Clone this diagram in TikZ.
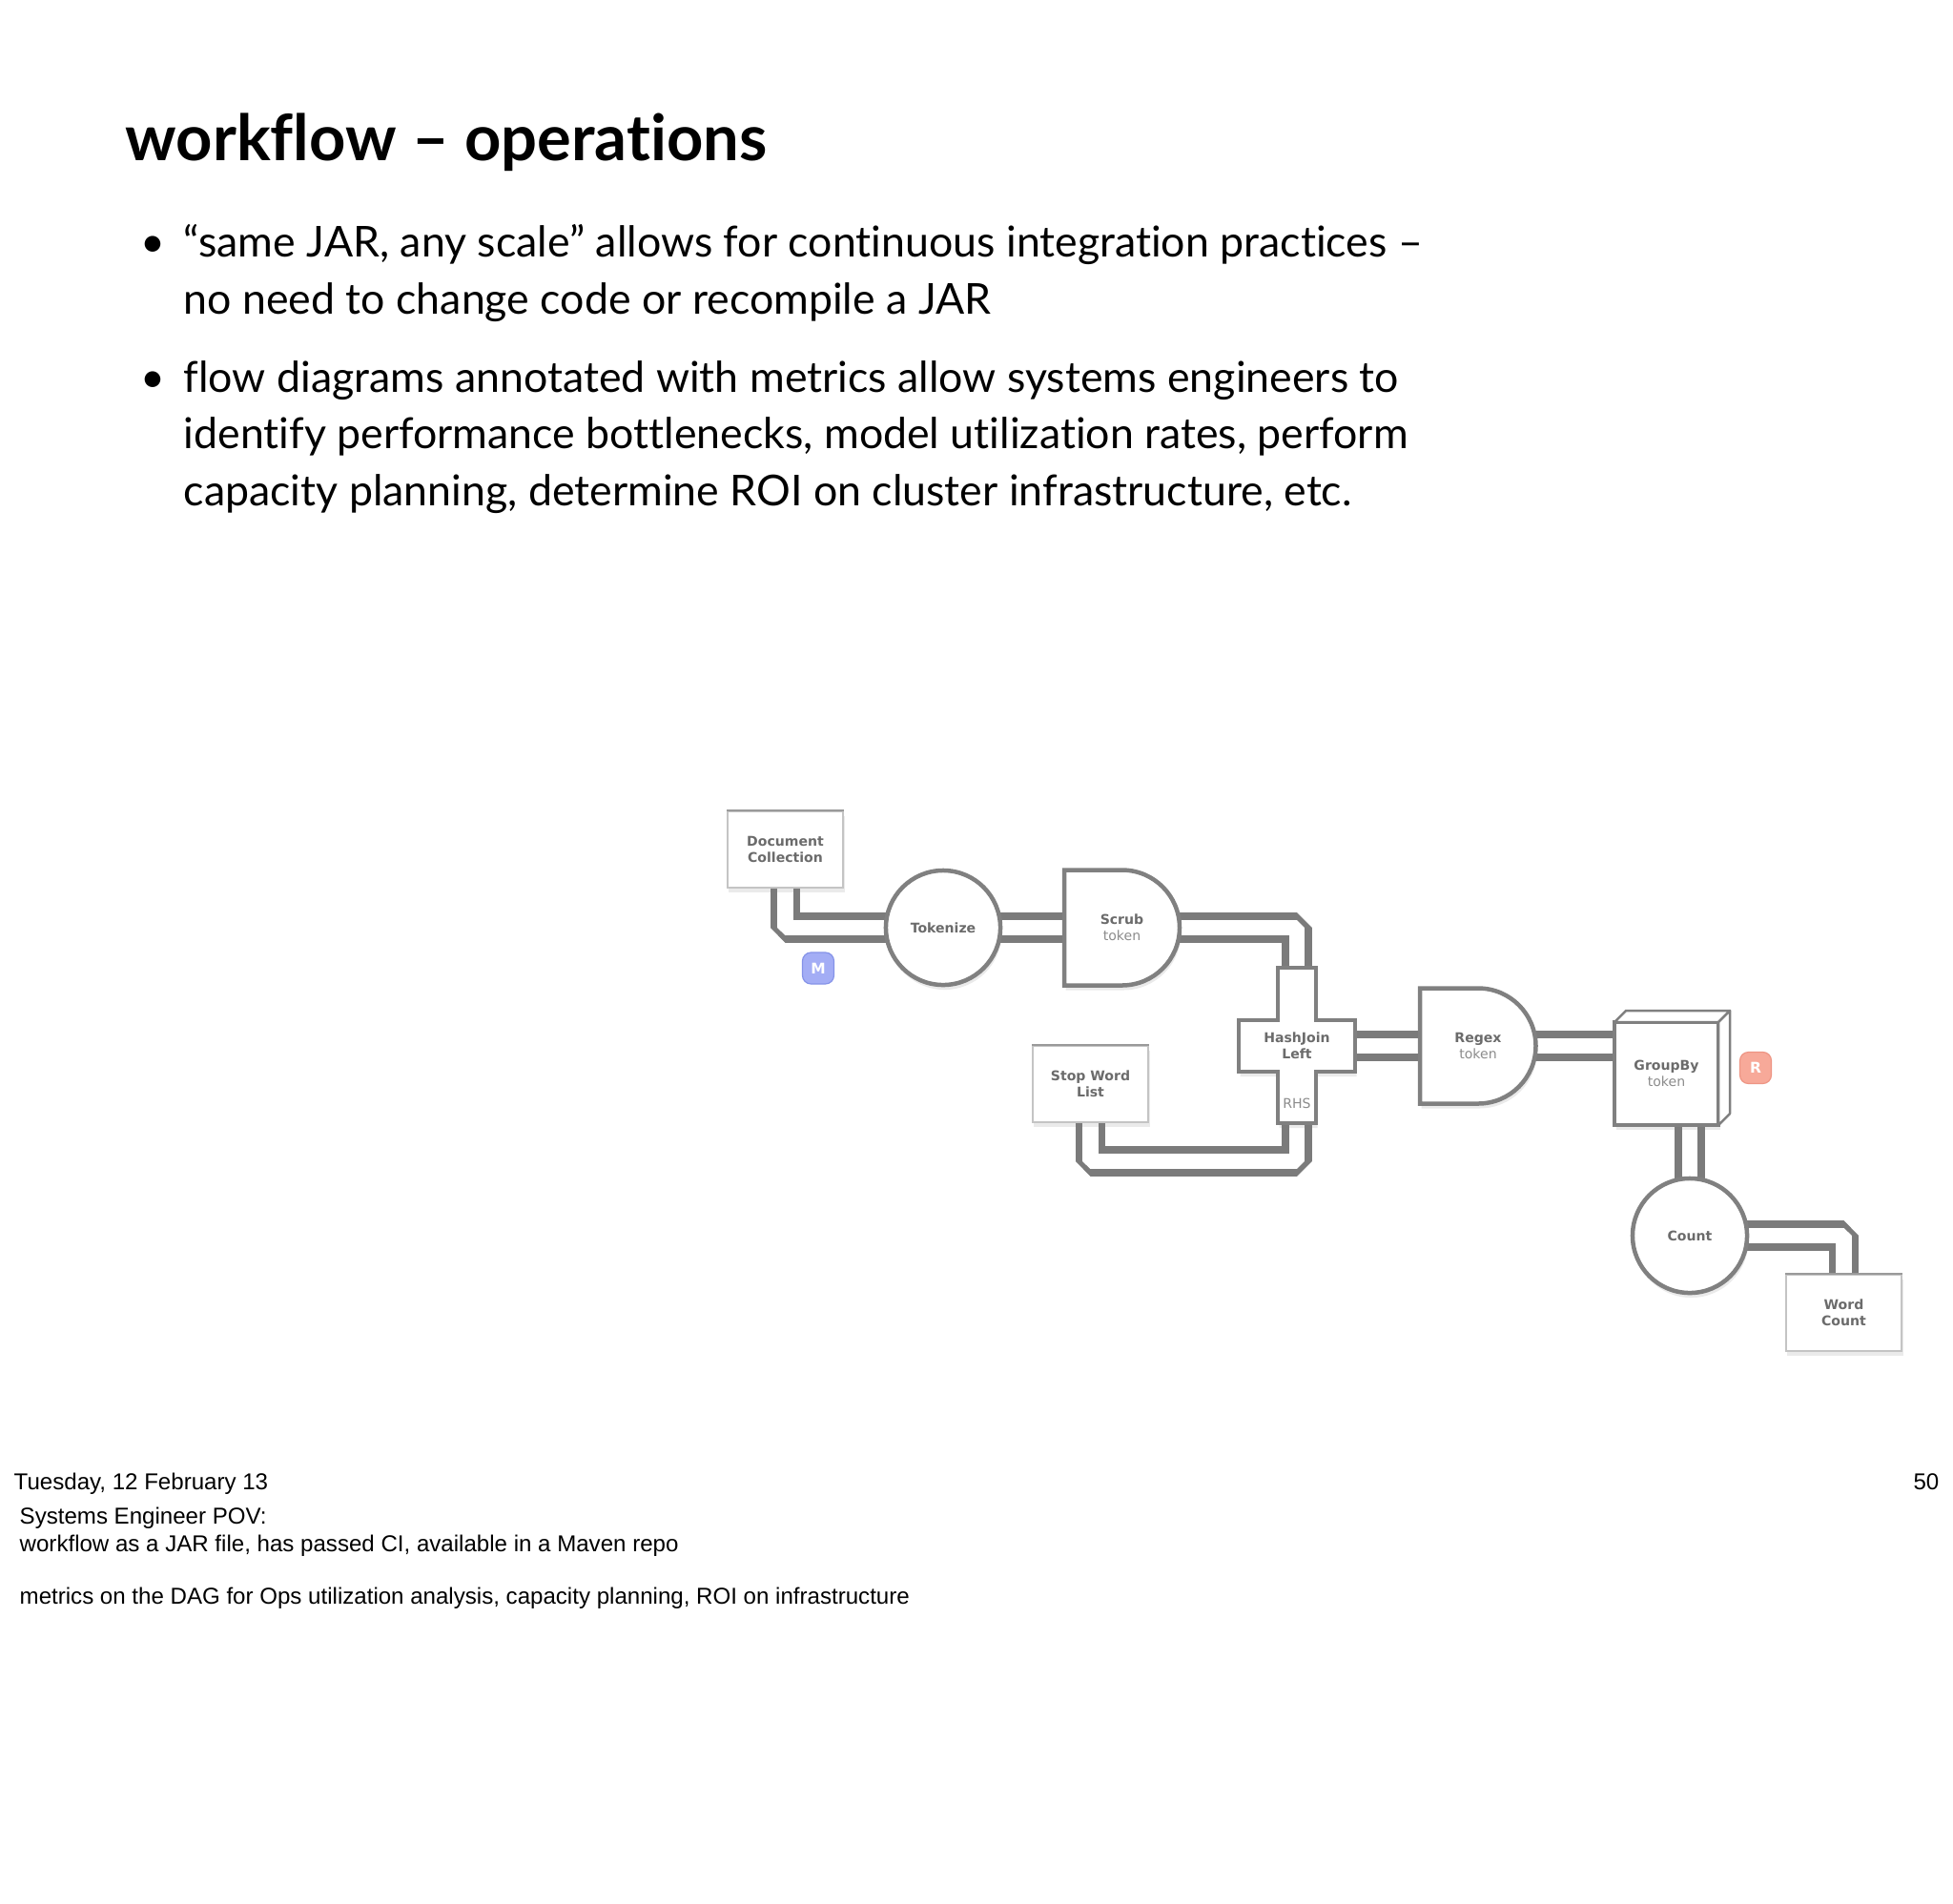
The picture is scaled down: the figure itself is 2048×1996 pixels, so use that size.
\documentclass[tikz,border=0pt]{standalone}
\usepackage{fontspec}
\setmainfont{Lato}[Ligatures=NoCommon]
\newfontfamily\diagfont{DejaVu Sans}
\newfontfamily\footfont{Liberation Sans}
\usetikzlibrary{shadows}
\pgfdeclarelayer{bg}
\pgfdeclarelayer{pipes}
\pgfsetlayers{bg,pipes,main}
\definecolor{pipegray}{HTML}{7B7B7B}
\definecolor{bordergray}{HTML}{808080}
\definecolor{labgray}{HTML}{6B6B6B}
\definecolor{toklight}{HTML}{8C8C8C}
\definecolor{boxline}{HTML}{C4C4C4}
\definecolor{boxtop}{HTML}{9A9A9A}
\definecolor{mfill}{HTML}{A3ADF5}
\definecolor{mline}{HTML}{8593E8}
\definecolor{rfill}{HTML}{F7A999}
\definecolor{rline}{HTML}{EE9584}
\begin{document}
\begin{tikzpicture}[x=0.01cm,y=-0.01cm,
  pipe/.style={draw=pipegray, line width=0.072cm, double=white, double distance=0.168cm,
    line join=bevel, shorten <=-0.04cm, shorten >=-0.04cm},
  softshadow/.style={drop shadow={opacity=0.16, shadow xshift=0.015cm, shadow yshift=-0.05cm}},
  opshape/.style={draw=bordergray, line width=0.045cm, fill=white, softshadow},
  lab/.style={font=\diagfont\fontsize{4}{4.8}\selectfont\bfseries, text=labgray, align=center, inner sep=0pt},
  databox/.style={rectangle, draw=boxline, line width=0.015cm, fill=white, softshadow,
    minimum width=1.21cm, minimum height=0.8cm, inner sep=0pt, lab},
  opcircle/.style={circle, opshape, minimum size=1.2cm, inner sep=0pt, lab},
  hold/.style={rectangle, inner sep=0pt, lab},
  badge/.style={rectangle, rounded corners=0.09cm, line width=0.012cm, minimum width=0.33cm,
    minimum height=0.33cm, inner sep=0pt, text=white,
    font=\diagfont\fontsize{4.4}{5}\selectfont\bfseries},
  bodytext/.style={anchor=base west, inner sep=0pt, font=\fontsize{12.7}{15}\selectfont},
  foottext/.style={anchor=base west, inner sep=0pt, font=\footfont\fontsize{6.85}{8}\selectfont}
]
\begin{pgfonlayer}{bg}
\fill[white] (0,0) rectangle (2048,1996);
\end{pgfonlayer}
\useasboundingbox (0,0) rectangle (2048,1996);

% ---------- title and bullets ----------
\node[anchor=base west, inner sep=0pt, font=\bfseries\fontsize{19}{22}\selectfont] (title) at (131,168) {workflow – operations};
\node[bodytext] (b1) at (147,269) {•};
\node[bodytext] (l1) at (192,269) {“same JAR, any scale” allows for continuous integration practices –};
\node[bodytext] (l2) at (192,329) {no need to change code or recompile a JAR};
\node[bodytext] (b2) at (147,411) {•};
\node[bodytext] (l3) at (192,411) {flow diagrams annotated with metrics allow systems engineers to};
\node[bodytext] (l4) at (192,470) {identify performance bottlenecks, model utilization rates, perform};
\node[bodytext] (l5) at (192,530) {capacity planning, determine ROI on cluster infrastructure, etc.};

% ---------- custom shapes ----------
\draw[opshape] (1116,912.5) -- (1176.5,912.5) arc[start angle=-90, end angle=90, radius=60.5] -- (1116,1033.5) -- cycle;
\draw[opshape] (1489,1036.5) -- (1550,1036.5) arc[start angle=-90, end angle=90, radius=60.5] -- (1489,1157.5) -- cycle;
\draw[opshape] (1340,1015) -- (1380,1015) -- (1380,1070) -- (1421,1070) -- (1421,1124) -- (1380,1124)
  -- (1380,1178) -- (1340,1178) -- (1340,1124) -- (1299,1124) -- (1299,1070) -- (1340,1070) -- cycle;
\draw[opshape] (1693,1072) rectangle (1802,1180);
\draw[draw=bordergray, line width=0.025cm, fill=white, line join=round] (1693,1072) -- (1705,1060) -- (1814,1060) -- (1802,1072) -- cycle;
\draw[draw=bordergray, line width=0.025cm, fill=white, line join=round] (1802,1072) -- (1814,1060) -- (1814,1168) -- (1802,1180) -- cycle;

% ---------- nodes ----------
\node[databox] (doc) at (823.5,891) {Document\\Collection};
\draw[boxtop, line width=0.025cm] (doc.north west) -- (doc.north east);
\node[opcircle] (tok) at (989,973) {Tokenize};
\node[hold, minimum width=1.21cm, minimum height=1.21cm] (scrub) at (1176.5,973) {Scrub\\{\mdseries\color{toklight}token}};
\node[hold, minimum width=0.4cm, minimum height=1.63cm] (hj) at (1360,1096.5) {};
\node[hold, minimum width=1.22cm, minimum height=0.54cm] (hjbar) at (1360,1097) {HashJoin\\Left};
\node[hold, font=\diagfont\fontsize{4}{4.8}\selectfont, text=toklight] (rhs) at (1360,1157) {RHS};
\node[databox] (stop) at (1143.5,1137) {Stop Word\\List};
\draw[boxtop, line width=0.025cm] (stop.north west) -- (stop.north east);
\node[hold, minimum width=1.22cm, minimum height=1.21cm] (regex) at (1550,1097) {Regex\\{\mdseries\color{toklight}token}};
\node[hold, minimum width=1.09cm, minimum height=1.08cm] (gb) at (1747.5,1126) {GroupBy\\{\mdseries\color{toklight}token}};
\node[opcircle] (count) at (1772,1296) {Count};
\node[databox] (wc) at (1933.5,1377) {Word\\Count};
\draw[boxtop, line width=0.025cm] (wc.north west) -- (wc.north east);
\node[badge, draw=mline, fill=mfill] (m) at (858,1015.5) {M};
\node[badge, draw=rline, fill=rfill] (r) at (1841,1120) {R};

\coordinate (hjlow) at (1360,1218);

% ---------- pipes ----------
\begin{pgfonlayer}{pipes}
\draw[pipe] (doc.south) |- (tok.west);
\draw[pipe] (tok.east) -- (scrub.west);
\draw[pipe] (scrub.east) -| (hj.north);
\draw[pipe] (stop.south) |- (hjlow) -- (hj.south);
\draw[pipe] (hjbar.east) -- (regex.west);
\draw[pipe] (regex.east) -- (regex.east -| gb.west);
\draw[pipe] (gb.south -| count.north) -- (count.north);
\draw[pipe] (count.east) -| (wc.north);
\end{pgfonlayer}

% ---------- footer ----------
\node[foottext] (date) at (14,1562) {Tuesday, 12 February 13};
\node[foottext, anchor=base east] (page) at (2034,1562) {50};
\node[foottext] (n1) at (20,1598) {Systems Engineer POV:};
\node[foottext] (n2) at (20,1627) {workflow as a JAR file, has passed CI, available in a Maven repo};
\node[foottext] (n3) at (20,1682) {metrics on the DAG for Ops utilization analysis, capacity planning, ROI on infrastructure};
\end{tikzpicture}
\end{document}
